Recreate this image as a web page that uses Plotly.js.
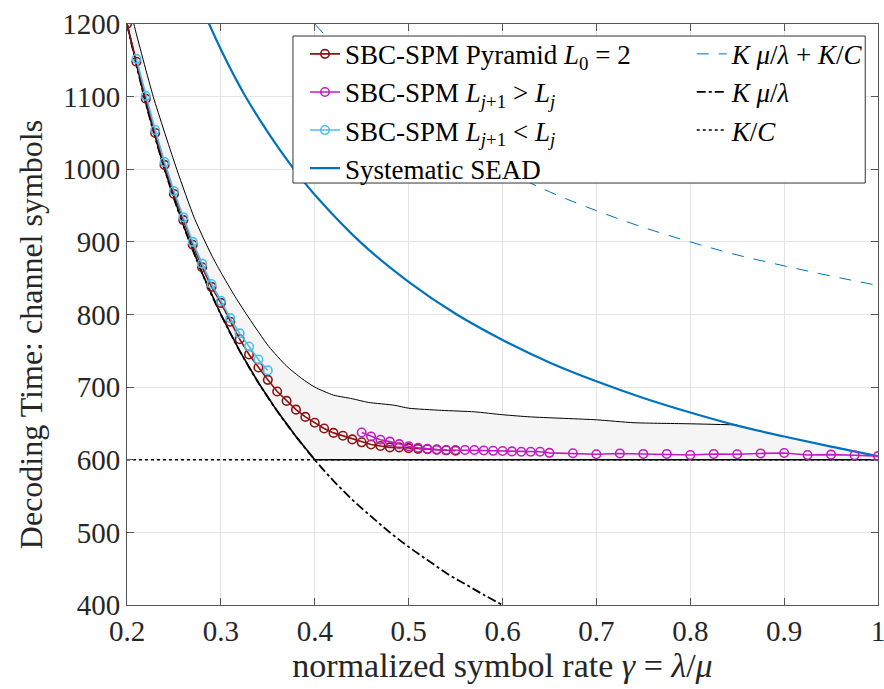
<!DOCTYPE html>
<html>
<head>
<meta charset="utf-8">
<script src="https://cdn.plot.ly/plotly-3.0.1.min.js"></script>
<style>html,body{margin:0;padding:0;background:#fff;}#chart{width:884px;height:689px;}</style>
</head>
<body>
<div id="chart"></div>
<script>
// ---- data ----
const pyramidX = [0.20,0.21,0.22,0.23,0.24,0.25,0.26,0.27,0.28,0.29,0.30,0.31,0.32,0.33,0.34,0.35,0.36,0.37,0.38,0.39,0.40,0.41,0.42,0.43,0.44,0.45,0.46,0.47,0.48,0.49,0.50,0.51,0.52,0.53,0.54,0.55];
const pyramidY = [1200,1148,1097,1050,1006,966,930,896,865,838,816,790,766,745,727,710,694,681,669,659,651,643,637,633,628,624,621,619,617,617,616,615,614.5,614,613,612.5];

const incX = [0.45,0.46,0.47,0.48,0.49,0.50,0.51,0.52,0.53,0.54,0.55,0.56,0.57,0.58,0.59,0.60,0.61,0.62,0.63,0.64,0.65,0.675,0.70,0.725,0.75,0.775,0.80,0.825,0.85,0.875,0.90,0.925,0.95,0.975,1.00];
const incY = [637.5,632,627.5,625,621.5,618.5,616.5,615,614,613.5,613.5,613.5,613.5,612.8,612.3,612,611.5,611,611,611,609.5,609,607.5,608.7,608,608,606.6,608,607.5,608.7,609.3,606.5,607,606.2,605];

const decX = [0.21,0.22,0.23,0.24,0.25,0.26,0.27,0.28,0.29,0.30,0.31,0.32,0.33,0.34,0.35];
const decY = [1152,1101,1054,1010,970,934,900,870,842,819,795,774,756,738,723];

const seadX = [0.28,0.30,0.325,0.35,0.375,0.40,0.45,0.50,0.55,0.60,0.65,0.70,0.75,0.80,0.85,0.90,0.95,1.00];
const seadY = [1222,1165,1103,1051,1005,965,898,845,801,765,734,708,685,665,647,632,618,605];

const boundSumX = [0.40,0.45,0.50,0.55,0.60,0.65,0.70,0.75,0.80,0.85,0.90,0.95,1.00];
const boundSumY = [1200,1133,1080,1036,1000,969,943,920,900,882,867,853,840];

const boundRateX = [0.20,0.22,0.24,0.26,0.28,0.30,0.32,0.34,0.36,0.38,0.40,0.42,0.44,0.46,0.48,0.50,0.52,0.54,0.56,0.58,0.60];
const boundRateY = [1200,1091,1000,923,857,800,750,706,667,632,600,571,545,522,500,480,462,444,429,414,400];

const boundCX = [0.2,1.0];
const boundCY = [600,600];

const bandUpperX = [0.20,0.2073,0.228,0.253,0.272,0.29,0.30,0.315,0.33,0.351,0.37,0.386,0.40,0.42,0.44,0.457,0.485,0.50,0.535,0.57,0.60,0.63,0.70,0.74,0.80,0.85];
const bandUpperY = [1242,1200,1100,1000,932,882,858,825,795,756,729,712,700,689,684,679,675,671,668,666,662,659,655,651,649.5,648];
const bandLowerX = [0.20,0.22,0.24,0.26,0.28,0.30,0.32,0.34,0.36,0.38,0.40,1.00];
const bandLowerY = [1200,1091,1000,923,857,800,750,706,667,632,600,600];

const xTickVals = [0.2,0.3,0.4,0.5,0.6,0.7,0.8,0.9,1];
const xTickText = ['0.2','0.3','0.4','0.5','0.6','0.7','0.8','0.9','1'];
const yTickVals = [400,500,600,700,800,900,1000,1100,1200];

// ---- band polygon (upper boundary -> SEAD tail -> lower boundary back) ----
const tailX = seadX.filter(v => v > 0.85);
const tailY = seadY.filter((v, i) => seadX[i] > 0.85);
const polyX = bandUpperX.concat(tailX, bandLowerX.slice().reverse());
const polyY = bandUpperY.concat(tailY, bandLowerY.slice().reverse());

const FONT = '"Liberation Serif", "Times New Roman", serif';
const cRed = '#8c1414', cMag = '#c41cc4', cLb = '#4dbeee', cBlue = '#0072bd';
const MS = 8.5;

const traces = [
  {x: polyX, y: polyY, mode: 'lines', fill: 'toself', fillcolor: 'rgba(245,245,245,1)',
   line: {width: 0}, hoverinfo: 'skip', showlegend: false},
  {x: boundCX, y: boundCY, mode: 'lines', name: '<i>K</i>/<i>C</i>', legend: 'legend2',
   line: {color: '#000', width: 1.6, dash: 'dot'}, legendrank: 3},
  {x: boundRateX, y: boundRateY, mode: 'lines', name: '<i>K</i> <i>μ</i>/<i>λ</i>', legend: 'legend2',
   line: {color: '#000', width: 1.8, dash: 'dashdot', shape: 'spline'}, legendrank: 2},
  {x: bandLowerX, y: bandLowerY, mode: 'lines', showlegend: false, hoverinfo: 'skip',
   line: {color: '#000', width: 1.6}},
  {x: bandUpperX, y: bandUpperY, mode: 'lines', showlegend: false, hoverinfo: 'skip',
   line: {color: '#000', width: 1, shape: 'spline', smoothing: 0.6}},
  {x: boundSumX, y: boundSumY, mode: 'lines', name: '<i>K</i> <i>μ</i>/<i>λ</i> + <i>K</i>/<i>C</i>', legend: 'legend2',
   line: {color: cBlue, width: 1, dash: '12px,10px', shape: 'spline'}, legendrank: 1},
  {x: seadX, y: seadY, mode: 'lines', name: 'Systematic SEAD',
   line: {color: cBlue, width: 2.2, shape: 'spline'}, legendrank: 4},
  {x: pyramidX, y: pyramidY, mode: 'lines+markers', name: 'SBC-SPM Pyramid <i>L</i><sub>0</sub> = 2',
   line: {color: cRed, width: 1.6}, marker: {symbol: 'circle-open', size: MS, color: cRed, line: {width: 1.6}}, legendrank: 1},
  {x: incX, y: incY, mode: 'lines+markers', name: 'SBC-SPM <i>L</i><sub><i>j</i>+1</sub> &gt; <i>L</i><sub><i>j</i></sub>',
   line: {color: cMag, width: 1.6}, marker: {symbol: 'circle-open', size: MS, color: cMag, line: {width: 1.6}}, legendrank: 2},
  {x: decX, y: decY, mode: 'lines+markers', name: 'SBC-SPM <i>L</i><sub><i>j</i>+1</sub> &lt; <i>L</i><sub><i>j</i></sub>',
   line: {color: cLb, width: 1.6}, marker: {symbol: 'circle-open', size: MS, color: cLb, line: {width: 1.6}}, legendrank: 3}
];

const axisCommon = {
  showline: true, mirror: 'ticks', linecolor: '#555', linewidth: 1,
  ticks: 'inside', ticklen: 7, tickcolor: '#555', tickwidth: 1,
  showgrid: true, gridcolor: '#e4e4e4', gridwidth: 1, zeroline: false,
  ticklabeloverflow: 'allow',
  tickfont: {family: FONT, size: 29, color: '#262626'}
};

const layout = {
  width: 884, height: 689,
  margin: {l: 127, r: 6, t: 24, b: 84},
  paper_bgcolor: '#fff', plot_bgcolor: '#fff',
  font: {family: FONT, color: '#262626'},
  xaxis: Object.assign({}, axisCommon, {
    range: [0.2, 1], tickvals: xTickVals, ticktext: xTickText,
    title: {text: 'normalized symbol rate <i>γ</i> = <i>λ</i>/<i>μ</i>', font: {family: FONT, size: 34, color: '#262626'}, standoff: 6}
  }),
  yaxis: Object.assign({}, axisCommon, {
    range: [400, 1200], tickvals: yTickVals,
    title: {text: 'Decoding Time: channel symbols&nbsp;&nbsp;&nbsp;&nbsp;&nbsp;', font: {family: FONT, size: 32, color: '#262626'}, standoff: 10}
  }),
  shapes: [
    {type: 'rect', xref: 'paper', yref: 'paper', x0: 0.221, x1: 0.983, y0: 0.7263, y1: 0.9793,
     fillcolor: '#fff', line: {color: '#333', width: 1}, layer: 'above'}
  ],
  showlegend: true,
  legend: {
    x: 0.237, y: 0.99, xanchor: 'left', yanchor: 'top',
    orientation: 'v',
    bgcolor: 'rgba(0,0,0,0)', borderwidth: 0,
    font: {family: FONT, size: 27, color: '#000'},
    traceorder: 'normal', tracegroupgap: 0
  },
  legend2: {
    x: 0.752, y: 0.99, xanchor: 'left', yanchor: 'top',
    orientation: 'v',
    bgcolor: 'rgba(0,0,0,0)', borderwidth: 0,
    font: {family: FONT, size: 27, color: '#000'},
    traceorder: 'normal', tracegroupgap: 0
  }
};

Plotly.newPlot('chart', traces, layout, {displayModeBar: false, staticPlot: true});
</script>
</body>
</html>
